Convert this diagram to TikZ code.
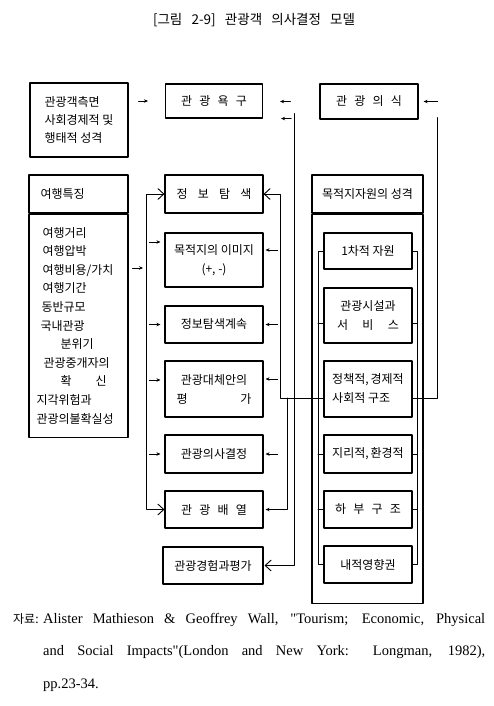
\documentclass[tikz,border=0pt]{standalone}
\usepackage{fontspec}
\setmainfont{Liberation Serif}
\newfontfamily\kr{Noto Sans CJK KR}
\usetikzlibrary{arrows.meta}
\newcommand\wspread[2]{\makebox[#1pt][s]{#2}}

\begin{document}
\begin{tikzpicture}[x=1pt, y=-1pt, line join=round, line cap=round,
    font=\kr\fontsize{12}{19}\selectfont,
    box/.style={draw, line width=1.1pt, inner sep=2pt, align=center},
    link/.style={line width=0.9pt},
    arr/.style={link, -{Stealth[length=4pt,width=3.5pt]}},
    chev/.style={link, -{Straight Barb[length=6pt,width=11pt]}},
    chevs/.style={link, {Straight Barb[length=6pt,width=11pt]}-{Straight Barb[length=6pt,width=11pt]}}]
  \useasboundingbox (0,0) rectangle (494,706);
  \def\cb{214} \def\cc{368}
  % rails for the connectors
  \path (146,0) coordinate(bl) (280,0) coordinate(la) (287,0) coordinate(lb)
        (294,0) coordinate(lc) (318,0) coordinate(sl) (417,0) coordinate(sr)
        (437,0) coordinate(ld) (0,268) coordinate(v3);
  \node[font=\kr\fontsize{13.5}{16}\selectfont] (title) at (254,20)
    {\wspread{202}{[그림 2-9] 관광객 의사결정 모델}};
  % first row
  \node[box, minimum width=98, minimum height=74, align=left,
        font=\kr\fontsize{12}{18}\selectfont] (trav) at (79,120)
    {관광객측면\\사회경제적 및\\행태적 성격};
  \node[box, minimum width=97, minimum height=34] (need) at (\cb,101) {\wspread{66}{관 광 욕 구}};
  \node[box, minimum width=98, minimum height=35] (consc) at (369,101.5) {\wspread{66}{관 광 의 식}};
  % left column
  \node[box, minimum width=99, minimum height=38, text width=76, align=left] (feat) at (78.5,194) {여행특징};
  \node[box, minimum width=99, minimum height=223, text width=84, align=left, anchor=north,
        font=\kr\fontsize{12}{18.6}\selectfont] (featlist) at (feat.south)
    {\hspace*{6pt}여행거리\\\hspace*{6pt}여행압박\\\hspace*{6pt}여행비용/가치\\\hspace*{6pt}여행기간\\
     \hspace*{5pt}동반규모\\\hspace*{4pt}국내관광\\\hspace*{24pt}분위기\\\hspace*{7pt}관광중개자의\\
     \hspace*{24pt}확\hspace{24pt}신\\지각위험과\\관광의불확실성};
  % middle column
  \node[box, minimum width=98, minimum height=38] (search) at (\cb,194) {\wspread{75}{정 보 탐 색}};
  \node[box, minimum width=98, minimum height=54] (image) at (\cb,260) {목적지의 이미지\\(+, -)};
  \node[box, minimum width=98, minimum height=37] (cont) at (\cb,324.5) {정보탐색계속};
  \node[box, minimum width=98, minimum height=56] (alt) at (\cb,389) {관광대체안의\\\wspread{75}{평 가}};
  \node[box, minimum width=98, minimum height=38] (decide) at (\cb,454) {관광의사결정};
  \node[box, minimum width=98, minimum height=37] (arrange) at (\cb,509.5) {\wspread{66}{관 광 배 열}};
  \node[box, minimum width=100, minimum height=37] (eval) at (213,565.5) {관광경험과평가};
  % right column
  \node[box, minimum width=111, minimum height=38] (resh) at (367.5,194) {목적지자원의 성격};
  \node[box, minimum width=111, minimum height=389, anchor=north] (resb) at (resh.south) {};
  \node[box, minimum width=88, minimum height=36] (r1) at (\cc,251) {1차적 자원};
  \node[box, minimum width=88, minimum height=55] (r2) at (\cc,315.5) {관광시설과\\\wspread{62}{서 비 스}};
  \node[box, minimum width=88, minimum height=56, align=left] (r3) at (\cc,389) {정책적,\,경제적\\사회적 구조};
  \node[box, minimum width=88, minimum height=38] (r4) at (\cc,454) {지리적,\,환경적};
  \node[box, minimum width=88, minimum height=37] (r5) at (\cc,509.5) {\wspread{66}{하 부 구 조}};
  \node[box, minimum width=88, minimum height=37] (r6) at (\cc,564.5) {내적영향권};
  % arrows of the first row
  \draw[arr, shorten <=10pt, shorten >=17pt] (trav.east |- need.west) -- (need.west);
  \draw[arr, shorten <=29pt, shorten >=17pt] (consc.west) -- (consc.west -| need.east);
  % bracket in front of the middle column
  \draw[chevs] (search.west) -- (bl |- search.west) -- (bl |- arrange.west) -- (arrange.west);
  \draw[arr, shorten <=4pt, shorten >=3pt] (featlist.east |- v3) -- (bl |- v3);
  \foreach \n/\d in {image/18, cont/0, alt/9, decide/0}
    \draw[arr] ([xshift=-15pt, yshift=\d pt]\n.west) -- ([xshift=-4pt, yshift=\d pt]\n.west);
  \foreach \n/\d in {image/10, cont/0, alt/10, decide/0}
    \draw[arr] ([xshift=14pt, yshift=\d pt]\n.east) -- ([xshift=2pt, yshift=\d pt]\n.east);
  % from the resource box back to the middle column
  \path ([yshift=-9pt]r3.west) coordinate(jl) ([yshift=-9pt]r3.east) coordinate(jr);
  \draw[chev] (jl) -| (la |- search.east) -- (search.east);
  \draw[arr] (lb |- jl) -- (lb |- arrange.east) -- ([xshift=2pt]arrange.east);
  \path (lc |- need.south) ++(0,-5) coordinate(ltop);
  \draw[chev] (ltop) -- (lc |- eval.east) -- ([xshift=1pt]eval.east);
  \draw[arr] ([xshift=28pt]need.south east) -- ([xshift=18pt]need.south east);
  \path (ld |- consc.south) ++(0,-2) coordinate(rtop);
  \draw[link] (jr) -- (ld |- jr) -- (rtop);
  \draw[arr] ([xshift=19pt]consc.east) -- ([xshift=5pt]consc.east);
  % stubs of the resource boxes
  \draw[link] (r1.west) -- (sl |- r1.west) -- (sl |- r6.west) -- (r6.west);
  \draw[link] (r1.east) -- (sr |- r1.east) -- (sr |- r6.east) -- (r6.east);
  \foreach \n/\d in {r2/-8, r4/0, r5/0} {
    \path ([yshift=\d pt]\n.west) coordinate(p) ([yshift=\d pt]\n.east) coordinate(q);
    \draw[link] (p) -- (sl |- p) (q) -- (sr |- q);
  }
  % source
  \node[anchor=north west, inner sep=0pt, font=\fontsize{14.5}{32.5}\selectfont] (src) at (13,613)
    {\parbox{472pt}{\hangindent=30pt\hangafter=1\noindent\makebox[30pt][l]{\kr\fontsize{12}{14}\selectfont 자료:}Alister
     Mathieson \& Geoffrey Wall, \textquotedbl Tourism; Economic, Physical\linebreak
     and Social Impacts\textquotedbl(London and New York: Longman, 1982),\linebreak
     pp.23-34.}};
\end{tikzpicture}
\end{document}
